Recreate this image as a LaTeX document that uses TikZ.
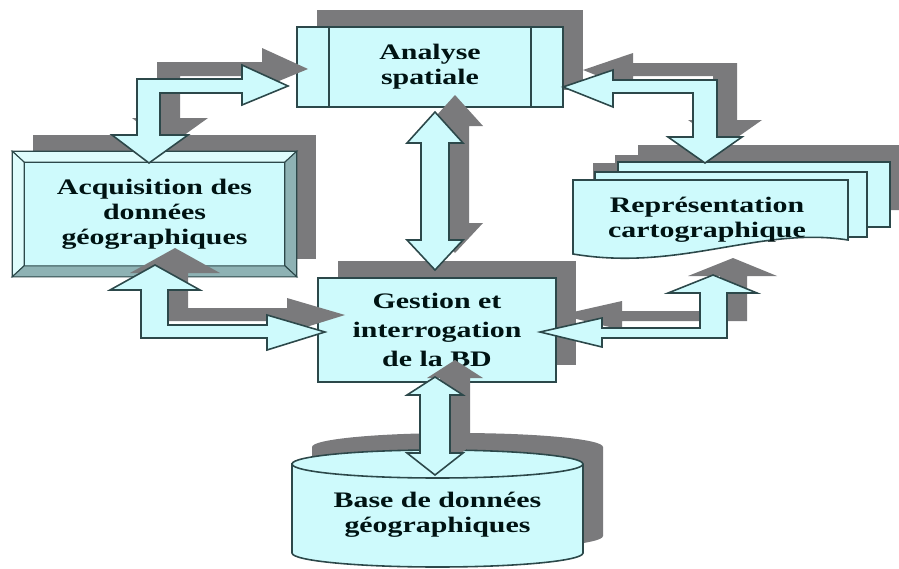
\documentclass[tikz,border=0pt]{standalone}
\usepackage{fontspec}
\newfontfamily\lblfont{Liberation Serif}[FakeStretch=1.35]
\definecolor{boxfill}{RGB}{206,250,252}
\definecolor{boxline}{RGB}{44,72,74}
\definecolor{shadowgray}{RGB}{122,122,124}
\definecolor{bevellight}{RGB}{222,252,252}
\definecolor{beveldark}{RGB}{142,178,180}
\begin{document}
\begin{tikzpicture}[x=0.02cm, y=-0.02cm,
lbl/.style={font=\lblfont\bfseries\fontsize{12.6}{14.3}\selectfont, align=center, text=black!85!teal},
blk/.style={fill=boxfill, draw=boxline, line width=0.9pt, line join=miter},
shd/.style={preaction={fill=shadowgray, transform canvas={shift={(20,-17)}}}},
boxed/.style={blk, shd, rectangle, inner sep=0pt},
facet/.style={draw=boxline, line width=0.6pt}]
\useasboundingbox (0,0) rectangle (899,568);
\node[boxed, lbl, minimum width=5.32cm, minimum height=1.6cm] (analyse) at (430,67) {Analyse\\spatiale};
\draw[boxline, line width=0.9pt] ([xshift=0.66cm]analyse.north west) -- ([xshift=0.66cm]analyse.south west)
    ([xshift=-0.66cm]analyse.north east) -- ([xshift=-0.66cm]analyse.south east);
\node[boxed, lbl, minimum width=5.66cm, minimum height=2.48cm] (acquisition) at (154.5,214) {Acquisition des\\donn\'ees\\g\'eographiques};
\draw[facet, fill=bevellight] (acquisition.north west) -- (acquisition.north east) -- ([shift={(-12,11)}]acquisition.north east) -- ([shift={(12,11)}]acquisition.north west) -- cycle;
\draw[facet, fill=bevellight] (acquisition.north west) -- ([shift={(12,11)}]acquisition.north west) -- ([shift={(12,-11)}]acquisition.south west) -- (acquisition.south west) -- cycle;
\draw[facet, fill=beveldark] (acquisition.north east) -- (acquisition.south east) -- ([shift={(-12,-11)}]acquisition.south east) -- ([shift={(-12,11)}]acquisition.north east) -- cycle;
\draw[facet, fill=beveldark] (acquisition.south west) -- ([shift={(12,-11)}]acquisition.south west) -- ([shift={(-12,-11)}]acquisition.south east) -- (acquisition.south east) -- cycle;
\begin{scope}[transform canvas={shift={(20,-17)}}]
\fill[shadowgray] (618,162) rectangle (890,227) (595,172) rectangle (867,237);
\fill[shadowgray] (573,180) -- (848,180) -- (848,240) .. controls (760,226) and (680,272) .. (573,254) -- cycle;
\end{scope}
\draw[blk] (618,162) rectangle (890,227);
\draw[blk] (595,172) rectangle (867,237);
\draw[blk] (573,180) -- (848,180) -- (848,240) .. controls (760,226) and (680,272) .. (573,254) -- cycle;
\node[lbl] (representation) at (707,220) {Repr\'esentation\\cartographique};
\node[boxed, lbl, minimum width=4.76cm, minimum height=2.08cm] (gestion) at (437,330) {Gestion et\\[2pt]interrogation\\[2pt]de la BD};
\draw[blk, shd] (292,464) -- (292,553) arc[start angle=180, end angle=0, x radius=145.5, y radius=14]
    -- (583,464) arc[start angle=0, end angle=-180, x radius=145.5, y radius=14] -- cycle;
\draw[boxline, line width=0.9pt] (292,464) arc[start angle=180, end angle=0, x radius=145.5, y radius=14];
\node[lbl] (base) at (437.5,515) {Base de donn\'ees\\g\'eographiques};
\draw[blk, shd] (288,86) -- (242,65) -- (242,79) -- (137,79) -- (137,135) -- (112,135) -- (149,163) -- (188,135)
    -- (160,135) -- (160,93) -- (242,93) -- (242,105) -- cycle;
\draw[blk, shd] (563,87) -- (613,70) -- (613,80) -- (717,80) -- (717,137) -- (742,137) -- (705,163) -- (668,137)
    -- (693,137) -- (693,93) -- (613,93) -- (613,107) -- cycle;
\draw[blk, shd] (435,112) -- (463,143) -- (449,143) -- (449,240) -- (463,240) -- (435,270) -- (407,240)
    -- (421,240) -- (421,143) -- (407,143) -- cycle;
\draw[blk, shd] (155,265) -- (200,290) -- (168,290) -- (168,325) -- (267,325) -- (267,315) -- (325,332)
    -- (267,350) -- (267,338) -- (141,338) -- (141,290) -- (110,290) -- cycle;
\draw[blk, shd] (713,275) -- (757,293) -- (727,293) -- (727,338) -- (602,338) -- (602,347) -- (540,332)
    -- (602,318) -- (602,328) -- (700,328) -- (700,293) -- (668,293) -- cycle;
\draw[blk, shd] (435,377) -- (463,395) -- (450,395) -- (450,453) -- (463,453) -- (435,475) -- (407,453)
    -- (420,453) -- (420,395) -- (407,395) -- cycle;
\end{tikzpicture}
\end{document}
